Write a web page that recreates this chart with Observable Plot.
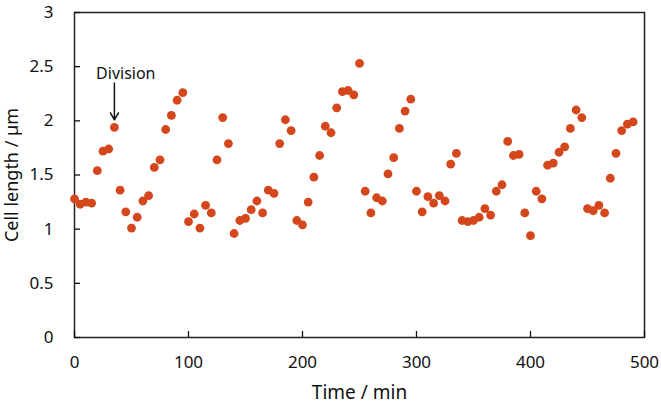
<!DOCTYPE html>
<html>
<head>
<meta charset="utf-8">
<script src="https://cdn.jsdelivr.net/npm/d3@7"></script>
<script src="https://cdn.jsdelivr.net/npm/@observablehq/plot@0.6"></script>
<style>
  html, body { margin: 0; padding: 0; background: #fff; }
</style>
</head>
<body>
<div id="chart"></div>
<script>
// Time (min), sampled every 5 min
const times = [
  0,5,10,15,20,25,30,35,40,45,50,55,60,65,70,75,80,85,90,95,
  100,105,110,115,120,125,130,135,140,145,150,155,160,
  165,170,175,180,185,190,195,200,205,210,215,220,225,230,235,240,245,250,255,260,265,270,275,280,285,290,295,300,305,310,315,320,
  325,330,335,340,345,350,355,360,365,370,375,380,385,390,395,400,405,410,415,420,425,430,435,440,445,450,455,460,465,470,475,480,485,490
];
// Cell length (µm)
const lengths = [
  1.28,1.23,1.25,1.24,1.54,1.72,1.74,1.94,1.36,1.16,1.01,1.11,1.26,1.31,1.57,1.64,1.92,2.05,2.19,2.26,
  1.07,1.14,1.01,1.22,1.15,1.64,2.03,1.79,0.96,1.08,1.10,1.18,1.26,
  1.15,1.36,1.33,1.79,2.01,1.91,1.08,1.04,1.25,1.48,1.68,1.95,1.89,2.12,2.27,2.28,2.24,2.53,1.35,1.15,1.29,1.26,1.51,1.66,1.93,2.09,2.20,1.35,1.16,1.30,1.24,1.31,
  1.26,1.60,1.70,1.08,1.07,1.08,1.11,1.19,1.13,1.35,1.41,1.81,1.68,1.69,1.15,0.94,1.35,1.28,1.59,1.61,1.71,1.76,1.93,2.10,2.03,1.19,1.17,1.22,1.15,1.47,1.70,1.91,1.97,1.99
];
const xTicks = [0, 100, 200, 300, 400, 500];
const yTicks = [0, 0.5, 1, 1.5, 2, 2.5, 3];
const xTitle = ["Time / min"];
const yTitle = ["Cell length / µm"];
// Annotation: label and arrow pointing at the division event at t = 35 min
const annotationText = [{label: "Division", x: 45, y: 2.43}];
const annotationArrow = [{x: 35, y1: 2.35, y2: 2.01}];

const data = times.map((t, i) => ({time: t, length: lengths[i]}));

const chart = Plot.plot({
  width: 661,
  height: 403,
  marginLeft: 74,
  marginRight: 17,
  marginTop: 12,
  marginBottom: 66,
  style: {fontFamily: "'Noto Sans', sans-serif", fontSize: "16px", color: "#111", background: "#fff"},
  x: {domain: [0, 500]},
  y: {domain: [0, 3]},
  marks: [
    Plot.frame({stroke: "#222", strokeWidth: 1.5}),
    Plot.axisX({ticks: xTicks, tickSize: -6, tickFormat: () => "", label: null, strokeWidth: 1.3}),
    Plot.axisY({ticks: yTicks, tickSize: -6, tickFormat: () => "", label: null, strokeWidth: 1.3}),
    Plot.axisX({ticks: xTicks, tickSize: 0, tickPadding: 18, label: null, fontSize: 17, tickFormat: d => String(d)}),
    Plot.axisY({ticks: yTicks, tickSize: 0, tickPadding: 21, label: null, fontSize: 17, tickFormat: d => String(d)}),
    Plot.text(xTitle, {text: d => d, frameAnchor: "bottom", textAnchor: "middle", dy: 61, fontSize: 19, fill: "#111"}),
    Plot.text(yTitle, {text: d => d, frameAnchor: "left", textAnchor: "middle", lineAnchor: "middle", dx: -62, rotate: -90, fontSize: 18, fill: "#111"}),
    Plot.dot(data, {x: "time", y: "length", r: 4.4, fill: "#d4471c", stroke: "none"}),
    Plot.arrow(annotationArrow, {x: "x", y1: "y1", y2: "y2", stroke: "#111", strokeWidth: 1.5, headLength: 8}),
    Plot.text(annotationText, {x: "x", y: "y", text: "label", fontSize: 16, fill: "#111"})
  ]
});
document.getElementById("chart").append(chart);
</script>
</body>
</html>
